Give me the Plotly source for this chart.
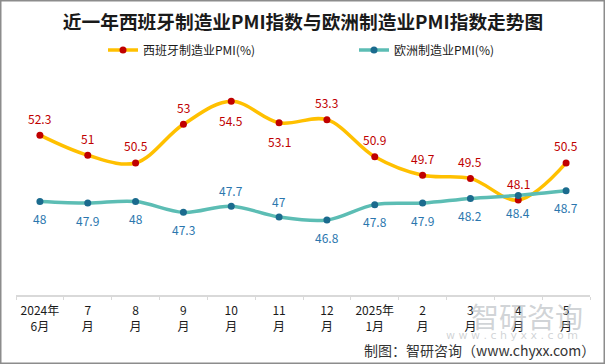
import plotly.graph_objects as go

categories = ["2024年<br>6月", "7<br>月", "8<br>月", "9<br>月", "10<br>月", "11<br>月", "12<br>月",
              "2025年<br>1月", "2<br>月", "3<br>月", "4<br>月", "5<br>月"]
spain_pmi = [52.3, 51, 50.5, 53, 54.5, 53.1, 53.3, 50.9, 49.7, 49.5, 48.1, 50.5]
europe_pmi = [48, 47.9, 48, 47.3, 47.7, 47, 46.8, 47.8, 47.9, 48.2, 48.4, 48.7]

# label placement (1 = above point, -1 = below point)
spain_label_side = [1, 1, 1, 1, -1, -1, 1, 1, 1, 1, 1, 1]
europe_label_side = [-1, -1, -1, -1, 1, 1, -1, -1, -1, -1, -1, -1]

FONT = "Noto Sans CJK SC, Microsoft YaHei, sans-serif"
SPAIN_LINE = "#FFC000"
SPAIN_MARK = "#C00000"
EU_LINE = "#5CBDB4"
EU_MARK = "#1B6B8E"
EU_TEXT = "#2A76AE"

PW = 605 - 16 - 15
PH = 364 - 78 - 69

def py(px):
    """pixel y (from top) -> paper y"""
    return (295 - px) / PH

def pxx(px):
    return (px - 16) / PW

fig = go.Figure()
fig.add_trace(go.Scatter(
    x=categories, y=spain_pmi, name="西班牙制造业PMI(%)", mode="lines+markers",
    line=dict(color=SPAIN_LINE, width=3.5, shape="spline", smoothing=1.0),
    marker=dict(color=SPAIN_MARK, size=7), cliponaxis=False, legendwidth=206))
fig.add_trace(go.Scatter(
    x=categories, y=europe_pmi, name="欧洲制造业PMI(%)", mode="lines+markers",
    line=dict(color=EU_LINE, width=3.5, shape="spline", smoothing=1.0),
    marker=dict(color=EU_MARK, size=7), cliponaxis=False, legendwidth=100))

annotations = []
for c, v, s in zip(categories, spain_pmi, spain_label_side):
    annotations.append(dict(x=c, y=v, text=f"{v:g}", showarrow=False,
                            yshift=17 if s > 0 else -19,
                            font=dict(family=FONT, size=12, color=SPAIN_MARK)))
for c, v, s in zip(categories, europe_pmi, europe_label_side):
    annotations.append(dict(x=c, y=v, text=f"{v:g}", showarrow=False,
                            yshift=16 if s > 0 else -17,
                            font=dict(family=FONT, size=12, color=EU_TEXT)))

# watermark
annotations.append(dict(xref="paper", yref="paper", x=pxx(527), y=py(316), xanchor="center", yanchor="middle",
                        text="智研咨询", showarrow=False,
                        font=dict(family=FONT, size=28, color="rgba(170,175,180,0.55)")))
annotations.append(dict(xref="paper", yref="paper", x=pxx(512), y=py(335), xanchor="center", yanchor="middle",
                        text="w w w . c h y x x . c o m", showarrow=False,
                        font=dict(family="DejaVu Sans", size=11, color="rgba(170,175,180,0.55)")))
# footer
annotations.append(dict(xref="paper", yref="paper", x=pxx(597), y=py(350), xanchor="right", yanchor="middle",
                        text="制图：智研咨询（www.chyxx.com）", showarrow=False,
                        font=dict(family=FONT, size=14, color="#333333")))

fig.add_shape(type="rect", xref="paper", yref="paper",
              x0=pxx(0.75), x1=pxx(604.25),
              y0=py(363.25), y1=py(0.75),
              line=dict(color="#8C8C8C", width=1.5), layer="above")

fig.update_layout(
    width=605, height=364,
    margin=dict(l=16, r=15, t=78, b=69),
    paper_bgcolor="white", plot_bgcolor="white",
    title=dict(text="<b>近一年西班牙制造业PMI指数与欧洲制造业PMI指数走势图</b>",
               x=0.5, xref="paper", xanchor="center", y=1 - 22 / 364, yanchor="middle",
               font=dict(family=FONT, size=18.7, color="#1a1a1a")),
    legend=dict(orientation="h", x=pxx(103), xanchor="left", y=py(50), yanchor="middle",
                font=dict(family=FONT, size=12, color="#1a1a1a"), bgcolor="rgba(0,0,0,0)"),
    showlegend=True,
    annotations=annotations,
    xaxis=dict(type="category", range=[-0.5, 11.5], showgrid=False, showline=True,
               linecolor="#D9D9D9", linewidth=1.5, ticks="outside", tickson="boundaries",
               ticklen=3, tickcolor="#D9D9D9", tickangle=0, automargin=False,
               ticklabelstandoff=4,
               tickfont=dict(family=FONT, size=12, color="#1a1a1a")),
    yaxis=dict(range=[41.95, 56.0], visible=False, showgrid=False, zeroline=False, automargin=False),
)

fig.write_html("out.html", config={"displayModeBar": False},
               post_script="document.body.style.margin='0';")
